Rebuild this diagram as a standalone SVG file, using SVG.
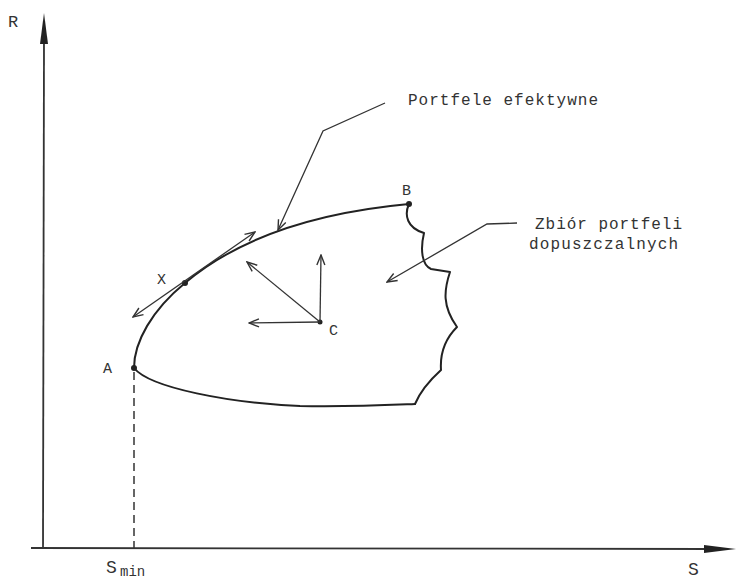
<svg xmlns="http://www.w3.org/2000/svg" width="737" height="582" viewBox="0 0 737 582">
<style>
.t{font-family:"Liberation Mono","DejaVu Sans Mono",monospace;fill:#333}
.lbl{font-size:15px}
.big{font-size:16px}
.curve{fill:none;stroke:#222;stroke-width:2;stroke-linecap:round;stroke-linejoin:round}
.arr{fill:none;stroke:#333;stroke-width:1.3;marker-end:url(#open)}
.axis{fill:none;stroke:#333;stroke-width:1.8}
.pt{fill:#222}
</style>
<defs>
<marker id="open" viewBox="0 0 12 10" refX="11" refY="5" markerWidth="12" markerHeight="10" markerUnits="userSpaceOnUse" orient="auto">
<path d="M1,1 L11,5 L1,9" fill="none" stroke="#333" stroke-width="1.4"/>
</marker>
<marker id="open2" viewBox="0 0 12 10" refX="11" refY="5" markerWidth="12" markerHeight="10" markerUnits="userSpaceOnUse" orient="auto-start-reverse">
<path d="M1,1 L11,5 L1,9" fill="none" stroke="#333" stroke-width="1.4"/>
</marker>
</defs>
<g id="axes">
<line class="axis" x1="43" y1="548" x2="44" y2="38"/>
<path d="M44,13 L48,44 L40,44 Z" fill="#222"/>
<line class="axis" x1="31" y1="548" x2="710" y2="549"/>
<path d="M736,549 L704,545 L704,553 Z" fill="#222"/>
<text class="t" x="8" y="27" font-size="17">R</text>
<text class="t" x="688" y="575" font-size="18">S</text>
<text class="t" x="106" y="573" font-size="18">S</text>
<text class="t" x="120" y="576" font-size="14">min</text>
<line x1="134" y1="372" x2="134" y2="548" stroke="#333" stroke-width="1.5" stroke-dasharray="8,5"/>
</g>
<g id="region">
<path class="curve" d="M134,368 C134,342 152,310 185,283 C230,245 300,214 409,204"/>
<path class="curve" d="M134,368 C150,388 230,403 300,406 C350,407 390,405 415,404"/>
<path class="curve" d="M409,204 C404,215 407,228 424,233 C420,250 422,265 431,269 L450,272 C444,290 442,306 457,327 C444,340 440,355 441,370 C430,380 420,392 415,404"/>
</g>
<g id="node-A"><circle class="pt" cx="134" cy="368" r="3"/><text class="t lbl" x="103" y="373">A</text></g>
<g id="node-X"><circle class="pt" cx="185" cy="283" r="3"/><text class="t lbl" x="157" y="284">X</text></g>
<g id="node-B"><circle class="pt" cx="409" cy="204" r="3"/><text class="t lbl" x="402" y="195">B</text></g>
<g id="node-C"><circle class="pt" cx="320" cy="322" r="2.5"/><text class="t lbl" x="329" y="335">C</text></g>
<g id="connectors">
<line x1="133" y1="317" x2="255" y2="232" fill="none" stroke="#333" stroke-width="1.3" marker-start="url(#open2)" marker-end="url(#open2)"/>
<line class="arr" x1="320" y1="322" x2="249" y2="323"/>
<line class="arr" x1="320" y1="322" x2="321" y2="255"/>
<line class="arr" x1="320" y1="322" x2="247" y2="262"/>
<polyline class="arr" points="385,103 323,131 278,230"/>
<polyline class="arr" points="517,223 487,224 387,282"/>
</g>
<g id="labels">
<text class="t big" x="408" y="105" textLength="190" lengthAdjust="spacing">Portfele efektywne</text>
<text class="t big" x="535" y="229" textLength="147" lengthAdjust="spacing">Zbiór portfeli</text>
<text class="t big" x="529" y="249" textLength="149" lengthAdjust="spacing">dopuszczalnych</text>
</g>
</svg>
